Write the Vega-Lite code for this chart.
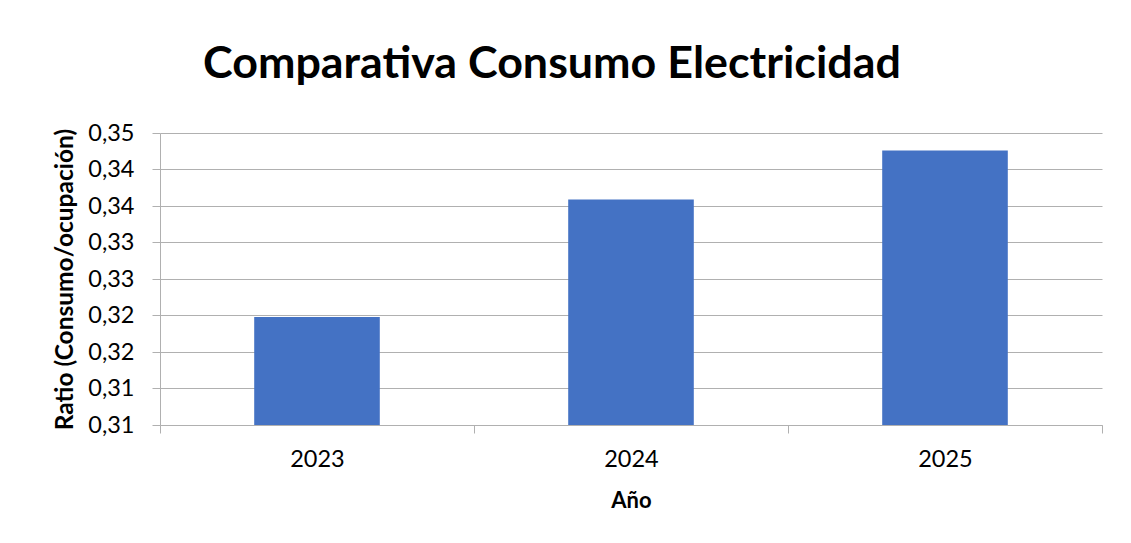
{
  "$schema": "https://vega.github.io/schema/vega-lite/v6.json",
  "autosize": {"type": "none"},
  "width": 942,
  "height": 292,
  "padding": {"left": 160, "top": 133, "right": 29, "bottom": 118},
  "background": "white",
  "title": {
    "text": "Comparativa Consumo Electricidad",
    "anchor": "start",
    "frame": "group",
    "dx": 43,
    "dy": 38,
    "fontSize": 44.8,
    "font": "Lato",
    "fontWeight": "bold",
    "color": "#000000",
    "baseline": "alphabetic",
    "offset": 36
  },
  "data": {
    "values": [
      {"year": "2023", "ratio": 0.3198, "base": 0.305},
      {"year": "2024", "ratio": 0.3359, "base": 0.305},
      {"year": "2025", "ratio": 0.3426, "base": 0.305}
    ]
  },
  "mark": {"type": "bar", "color": "#4472C4", "width": {"band": 0.4}},
  "encoding": {
    "x": {
      "field": "year",
      "type": "nominal",
      "title": "Año",
      "scale": {"paddingInner": 0, "paddingOuter": 0},
      "axis": {
        "labelAngle": 0,
        "grid": false,
        "tickBand": "extent",
        "tickSize": 8,
        "labelPadding": 33,
        "labelBaseline": "alphabetic",
        "labelFontSize": 23.5,
        "titleFontSize": 22,
        "titlePadding": 20
      }
    },
    "y": {
      "field": "ratio",
      "type": "quantitative",
      "title": "Ratio (Consumo/ocupación)",
      "scale": {"domain": [0.305, 0.345], "nice": false, "zero": false},
      "axis": {
        "values": [0.305, 0.31, 0.315, 0.32, 0.325, 0.33, 0.335, 0.34, 0.345],
        "labelExpr": "replace(format(datum.value + 0.000001, '.2f'), '.', ',')",
        "tickSize": 8,
        "labelPadding": 18,
        "labelFontSize": 23.5,
        "titleFontSize": 24.5,
        "titlePadding": 10
      }
    },
    "y2": {"field": "base"}
  },
  "config": {
    "view": {"stroke": null},
    "font": "Lato",
    "axis": {
      "labelFont": "Lato",
      "titleFont": "Lato",
      "labelColor": "#000000",
      "titleColor": "#000000",
      "titleFontWeight": "bold",
      "domainColor": "#b0b0b0",
      "tickColor": "#b0b0b0",
      "gridColor": "#b0b0b0",
      "domainWidth": 1,
      "tickWidth": 1,
      "gridWidth": 1
    }
  }
}
